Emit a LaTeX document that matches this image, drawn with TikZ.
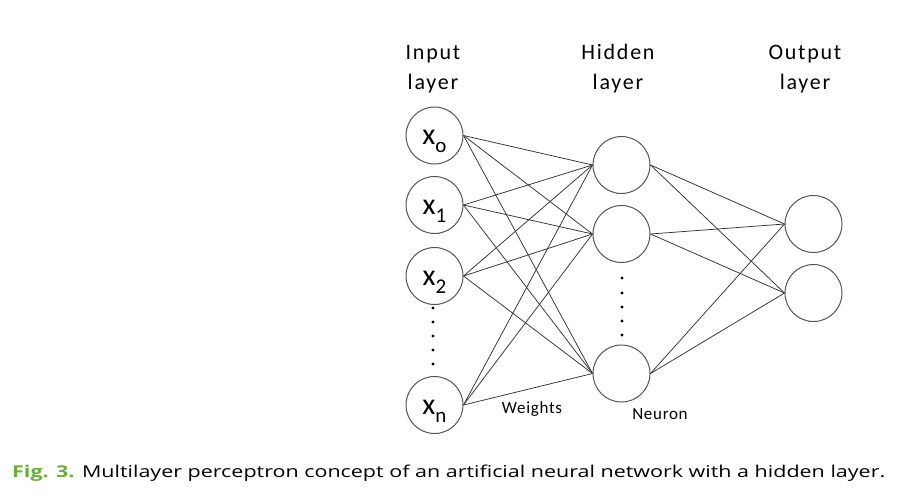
\documentclass[tikz,border=0pt]{standalone}
\usepackage{fontspec}
\setmainfont{Carlito}
\newfontfamily\capfont{Open Sans}
\definecolor{figgreen}{HTML}{6AAF35}
\definecolor{edgegray}{HTML}{333333}
\definecolor{circgray}{HTML}{555555}
\begin{document}
\begin{tikzpicture}[x=1pt,y=-1pt,
  neuron/.style={circle,draw=circgray,line width=1pt,minimum size=57pt,inner sep=0pt},
  inneuron/.style={circle,draw=circgray,line width=1pt,minimum size=57pt,inner sep=0pt,text height=20pt,text depth=2pt},
  wire/.style={draw=edgegray,line width=0.75pt},
  layerlbl/.style={anchor=base,inner sep=0pt,font=\fontsize{22}{22}\selectfont\addfontfeatures{LetterSpace=8}},
  smalllbl/.style={anchor=base,inner sep=0pt,font=\fontsize{17}{17}\selectfont\addfontfeatures{LetterSpace=4}},
  dotmark/.style={circle,fill=black,inner sep=0pt,minimum size=3.2pt}]
\useasboundingbox (0,0) rectangle (901,496);
\newcommand{\xlab}[1]{{\fontsize{30}{30}\selectfont x}\raisebox{-8pt}{\fontsize{21}{21}\selectfont #1}}
% layer labels
\node[layerlbl] (lin1) at (433,59) {Input};
\node[layerlbl] (lin2) at (433,89) {layer};
\node[layerlbl] (lhid1) at (618,59) {Hidden};
\node[layerlbl] (lhid2) at (618,89) {layer};
\node[layerlbl] (lout1) at (805,59) {Output};
\node[layerlbl] (lout2) at (805,89) {layer};
% input
\node[inneuron] (i0) at (434.5,135.5) {\xlab{o}};
\node[inneuron] (i1) at (434.5,205) {\xlab{1}};
\node[inneuron] (i2) at (434.5,276) {\xlab{2}};
\node[inneuron] (in) at (434.5,405) {\xlab{n}};
% hidden
\node[neuron] (h1) at (621.5,165) {};
\node[neuron] (h2) at (621.5,234) {};
\node[neuron] (h3) at (621.5,373.5) {};
% output
\node[neuron] (o1) at (813.5,224) {};
\node[neuron] (o2) at (813.5,293) {};
% dots
\foreach \k/\yy in {1/308,2/322,3/336,4/350,5/364}
  \node[dotmark] (di\k) at (433,\yy) {};
\foreach \k/\yy in {1/278,2/293,3/307,4/321,5/335}
  \node[dotmark] (dh\k) at (622,\yy) {};
% wires
\foreach \a in {i0,i1,i2,in}
  \foreach \b in {h1,h2,h3}
    \draw[wire] (\a.east) -- (\b.west);
\foreach \a in {h1,h2,h3}
  \foreach \b in {o1,o2}
    \draw[wire] (\a.east) -- (\b.west);
% labels
\node[smalllbl] (wts) at (532,413) {Weights};
\node[smalllbl] (neu) at (660,419) {Neuron};
% caption
\node[anchor=base west,inner sep=0pt] (cap) at (12,477) {\resizebox{873pt}{12.5pt}{\capfont\fontsize{18}{18}\selectfont\textcolor{figgreen}{\bfseries Fig. 3.} Multilayer perceptron concept of an artificial neural network with a hidden layer.}};
\end{tikzpicture}
\end{document}
